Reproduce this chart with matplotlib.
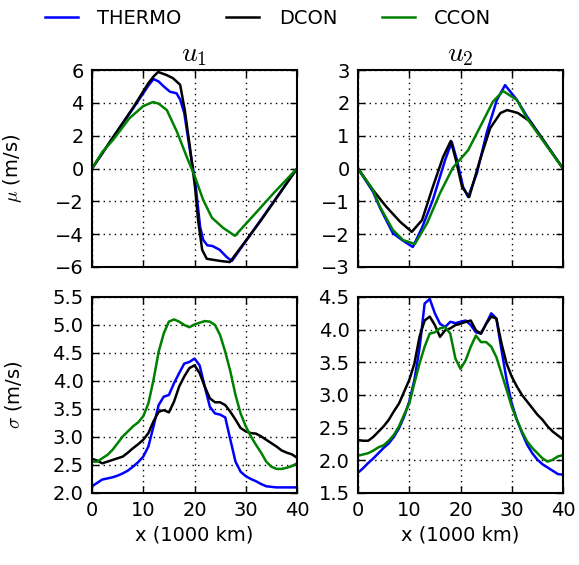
import matplotlib
matplotlib.use("Agg")
import matplotlib.pyplot as plt

plt.rcParams['font.family'] = ['DejaVu Sans']
plt.rcParams['mathtext.fontset'] = 'cm'
plt.rcParams['font.size'] = 14

# ---- mean, u1 ----
mu1_thermo_x = [0, 4, 8, 11, 12, 13, 14, 15.2, 16.5, 17.2, 18, 19.1, 20.1, 21.1, 21.7, 22.5, 23.5, 24.9, 26.3, 27.3, 40]
mu1_thermo_y = [0, 1.85, 3.65, 5.05, 5.45, 5.3, 5.0, 4.68, 4.58, 4.2, 3.38, 1.13, -0.7, -3.56, -4.35, -4.68, -4.72, -4.95, -5.4, -5.63, 0]
mu1_dcon_x = [0, 4, 8, 11, 12, 12.9, 14.5, 15.8, 17.2, 18.1, 19.1, 20.1, 20.7, 21.5, 22.4, 25, 26.9, 33, 40]
mu1_dcon_y = [0, 1.85, 3.7, 5.2, 5.6, 5.88, 5.7, 5.5, 5.1, 3.56, 1.31, -1.13, -3.14, -4.96, -5.5, -5.63, -5.7, -3.15, 0]
mu1_ccon_x = [0, 2, 4.1, 7.3, 10, 11.9, 13, 14.6, 16.6, 18.5, 20.1, 21.7, 23.4, 25.6, 27.9, 31.4, 35.3, 40]
mu1_ccon_y = [0, 1.0, 1.74, 3.06, 3.8, 4.05, 3.95, 3.56, 2.22, 0.7, -0.52, -1.92, -3.0, -3.62, -4.1, -2.9, -1.55, 0]

# ---- mean, u2 ----
mu2_thermo_x = [0, 2.9, 4.3, 6.8, 8.8, 10.7, 12.5, 14.6, 17, 18.3, 19.3, 20.5, 21.5, 23.2, 25.1, 27.1, 28.7, 31, 33, 40]
mu2_thermo_y = [0, -0.7, -1.2, -1.97, -2.2, -2.39, -1.8, -0.96, 0.26, 0.81, 0.26, -0.56, -0.87, -0.14, 1.08, 2.09, 2.54, 2.09, 1.58, 0]
mu2_dcon_x = [0, 2.9, 5.5, 8.2, 10.5, 12.5, 14.6, 16.6, 18.1, 19.1, 20.3, 21.7, 23.8, 25.8, 27.8, 29.1, 31.2, 33.6, 40]
mu2_dcon_y = [0, -0.65, -1.16, -1.62, -1.93, -1.57, -0.56, 0.35, 0.84, 0.26, -0.56, -0.87, 0.26, 1.23, 1.69, 1.78, 1.69, 1.43, 0]
mu2_ccon_x = [0, 2.9, 4.3, 6.8, 8.8, 11.1, 13.5, 16, 18.5, 21.5, 23.8, 26.3, 28.3, 31, 33, 40]
mu2_ccon_y = [0, -0.65, -1.17, -1.87, -2.18, -2.3, -1.66, -0.75, 0.02, 0.56, 1.26, 2.03, 2.36, 2.09, 1.52, 0]

# ---- std, u1 and u2 (sampled every 1000 km) ----
x_std = list(range(0, 41))
sig1_thermo = [2.12, 2.18, 2.24, 2.26, 2.28, 2.31, 2.35, 2.40, 2.47, 2.55, 2.65, 2.83, 3.19, 3.57, 3.72, 3.75, 3.96, 4.14, 4.31, 4.34, 4.40,
               4.28, 3.90, 3.54, 3.42, 3.40, 3.35, 2.95, 2.56, 2.38, 2.30, 2.25, 2.21, 2.16, 2.12, 2.11, 2.10, 2.10, 2.10, 2.10, 2.10]
sig1_dcon = [2.61, 2.58, 2.53, 2.56, 2.59, 2.62, 2.65, 2.72, 2.80, 2.87, 2.95, 3.07, 3.28, 3.45, 3.48, 3.44, 3.63, 3.90, 4.08, 4.23, 4.28,
             4.14, 3.90, 3.69, 3.62, 3.62, 3.57, 3.45, 3.31, 3.16, 3.10, 3.07, 3.06, 3.01, 2.95, 2.89, 2.83, 2.76, 2.72, 2.69, 2.63]
sig1_ccon = [2.56, 2.56, 2.62, 2.68, 2.77, 2.89, 3.01, 3.10, 3.19, 3.26, 3.37, 3.60, 4.02, 4.52, 4.85, 5.06, 5.10, 5.06, 5.00, 4.96, 5.01,
             5.04, 5.07, 5.06, 5.00, 4.82, 4.52, 4.17, 3.75, 3.42, 3.19, 3.01, 2.86, 2.72, 2.56, 2.47, 2.43, 2.43, 2.45, 2.48, 2.53]

sig2_thermo = [1.81, 1.88, 1.96, 2.03, 2.11, 2.19, 2.26, 2.36, 2.49, 2.67, 2.90, 3.23, 3.71, 4.40, 4.47, 4.25, 4.09, 4.04, 4.12, 4.10, 4.12,
               4.14, 4.07, 3.96, 3.94, 4.09, 4.25, 4.17, 3.69, 3.23, 2.87, 2.62, 2.42, 2.24, 2.11, 2.01, 1.94, 1.89, 1.84, 1.79, 1.78]
sig2_dcon = [2.31, 2.30, 2.30, 2.36, 2.44, 2.52, 2.62, 2.75, 2.87, 3.05, 3.23, 3.48, 3.89, 4.14, 4.20, 4.07, 3.89, 3.99, 4.02, 4.07, 4.09,
             4.12, 4.14, 3.99, 3.94, 4.09, 4.20, 4.17, 3.79, 3.48, 3.28, 3.13, 3.00, 2.90, 2.80, 2.70, 2.62, 2.52, 2.44, 2.38, 2.32]
sig2_ccon = [2.07, 2.09, 2.11, 2.15, 2.20, 2.23, 2.30, 2.39, 2.52, 2.70, 2.87, 3.18, 3.48, 3.74, 3.94, 3.96, 4.02, 4.04, 3.94, 3.56, 3.40,
             3.53, 3.74, 3.91, 3.81, 3.81, 3.74, 3.58, 3.33, 3.08, 2.82, 2.62, 2.44, 2.29, 2.19, 2.11, 2.03, 1.98, 2.01, 2.06, 2.08]

colors = {'THERMO': 'blue', 'DCON': 'black', 'CCON': 'green'}

fig = plt.figure(figsize=(5.79, 5.65), dpi=100)
W, H = 579.0, 565.0


def make_ax(l, t, r, b):
    return fig.add_axes([l / W, 1 - b / H, (r - l) / W, (b - t) / H])


ax_tl = make_ax(92, 70, 297, 267)
ax_tr = make_ax(358, 70, 563, 267)
ax_bl = make_ax(92, 297, 297, 493)
ax_br = make_ax(358, 297, 563, 493)

lw = 1.8
ax_tl.plot(mu1_thermo_x, mu1_thermo_y, color=colors['THERMO'], lw=lw, label='THERMO')
ax_tl.plot(mu1_dcon_x, mu1_dcon_y, color=colors['DCON'], lw=lw, label='DCON')
ax_tl.plot(mu1_ccon_x, mu1_ccon_y, color=colors['CCON'], lw=lw, label='CCON')

ax_tr.plot(mu2_thermo_x, mu2_thermo_y, color=colors['THERMO'], lw=lw)
ax_tr.plot(mu2_dcon_x, mu2_dcon_y, color=colors['DCON'], lw=lw)
ax_tr.plot(mu2_ccon_x, mu2_ccon_y, color=colors['CCON'], lw=lw)

ax_bl.plot(x_std, sig1_thermo, color=colors['THERMO'], lw=lw)
ax_bl.plot(x_std, sig1_dcon, color=colors['DCON'], lw=lw)
ax_bl.plot(x_std, sig1_ccon, color=colors['CCON'], lw=lw)

ax_br.plot(x_std, sig2_thermo, color=colors['THERMO'], lw=lw)
ax_br.plot(x_std, sig2_dcon, color=colors['DCON'], lw=lw)
ax_br.plot(x_std, sig2_ccon, color=colors['CCON'], lw=lw)

ax_tl.set_ylim(-6, 6)
ax_tl.set_yticks([-6, -4, -2, 0, 2, 4, 6])
ax_tr.set_ylim(-3, 3)
ax_tr.set_yticks([-3, -2, -1, 0, 1, 2, 3])
ax_bl.set_ylim(2.0, 5.5)
ax_bl.set_yticks([2.0, 2.5, 3.0, 3.5, 4.0, 4.5, 5.0, 5.5])
ax_br.set_ylim(1.5, 4.5)
ax_br.set_yticks([1.5, 2.0, 2.5, 3.0, 3.5, 4.0, 4.5])

for ax in [ax_tl, ax_tr, ax_bl, ax_br]:
    ax.set_xlim(0, 40)
    ax.set_xticks([0, 10, 20, 30, 40])
    ax.grid(True, color='black', linestyle=(0, (1, 3)), linewidth=1.0)
    ax.tick_params(direction='in', top=True, right=True, length=5, width=1, labelsize=14, pad=6)
    for s in ax.spines.values():
        s.set_linewidth(1.5)

for ax in [ax_bl, ax_br]:
    ax.yaxis.set_major_formatter(matplotlib.ticker.FormatStrFormatter('%.1f'))
    ax.set_xlabel('x (1000 km)', fontsize=14)

for ax in [ax_tl, ax_tr]:
    ax.tick_params(labelbottom=False)

ax_tl.set_title('$u_1$', fontsize=20, pad=6)
ax_tr.set_title('$u_2$', fontsize=20, pad=6)

ax_tl.set_ylabel(r'$\mu$ (m/s)', fontsize=14)
ax_bl.set_ylabel(r'$\sigma$ (m/s)', fontsize=14)
ax_tl.yaxis.set_label_coords(-0.33, 0.5)
ax_bl.yaxis.set_label_coords(-0.33, 0.5)

fig.legend(loc='center', bbox_to_anchor=(268 / W, 1 - 18 / H), ncol=3, frameon=False,
           fontsize=14, handlelength=1.7, handletextpad=1.0, columnspacing=2.3)

fig.savefig('out.png', dpi=100)
